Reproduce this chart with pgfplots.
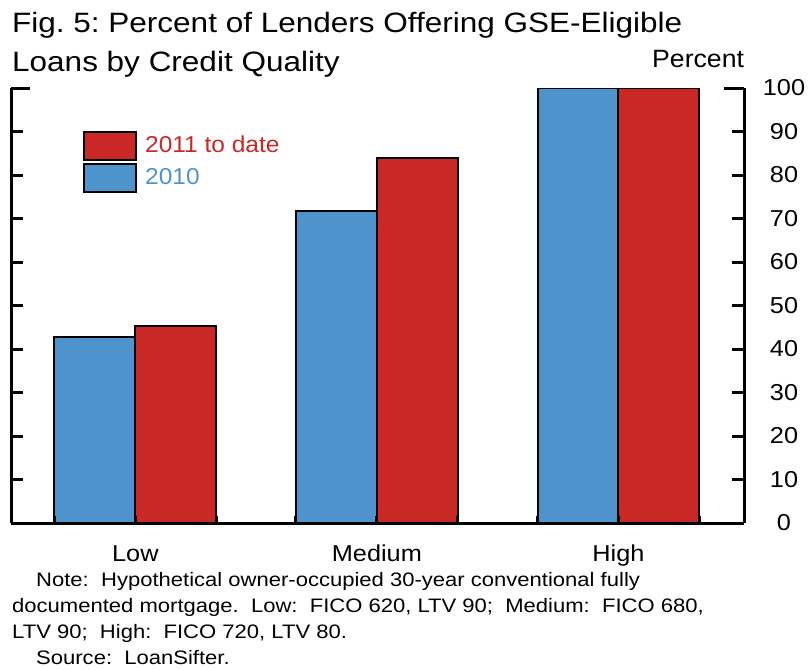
\documentclass[border=0pt]{standalone}
\usepackage{pgfplots}
\pgfplotsset{compat=1.18}
\usepackage{fontspec}
\setmainfont{Liberation Sans}[FakeStretch=1.065]
\newfontfamily\titlefont{Liberation Sans}[FakeStretch=1.125]
\newfontfamily\notefont{Liberation Sans}[FakeStretch=1.13]
\newfontfamily\tickfont{Liberation Sans}[FakeStretch=1.1]
\definecolor{barblue}{RGB}{79,147,205}
\definecolor{barred}{RGB}{201,40,38}
\begin{document}
\frenchspacing
\begin{tikzpicture}
\path[use as bounding box] (0,0) rectangle (808pt,-669pt);
\node[anchor=base west, inner sep=0pt, font=\titlefont\fontsize{28}{34}\selectfont] at (12pt,-33pt) {Fig. 5: Percent of Lenders Offering GSE-Eligible};
\node[anchor=base west, inner sep=0pt, font=\titlefont\fontsize{28}{34}\selectfont] at (12pt,-71pt) {Loans by Credit Quality};
\node[anchor=base west, inner sep=0pt, font=\fontsize{25}{30}\selectfont] at (652pt,-67pt) {Percent};
\node[anchor=base west, inner sep=0pt, font=\notefont\fontsize{19.5}{24}\selectfont] at (36pt,-586pt) {Note:\ \ Hypothetical owner-occupied 30-year conventional fully};
\node[anchor=base west, inner sep=0pt, font=\notefont\fontsize{19.5}{24}\selectfont] at (12pt,-612pt) {documented mortgage.\ \ Low:\ \ FICO 620, LTV 90;\ \ Medium:\ \ FICO 680,};
\node[anchor=base west, inner sep=0pt, font=\notefont\fontsize{19.5}{24}\selectfont] at (12pt,-638pt) {LTV 90;\ \ High:\ \ FICO 720, LTV 80.};
\node[anchor=base west, inner sep=0pt, font=\notefont\fontsize{19.5}{24}\selectfont] at (36pt,-664pt) {Source:\ \ LoanSifter.};
% left spine
\begin{axis}[at={(11pt,-523pt)}, anchor=south west, scale only axis,
  width=733pt, height=435pt, xmin=-0.515, xmax=2.52, ymin=0, ymax=100,
  axis x line=none, axis y line*=left,
  ytick={10,20,...,90}, yticklabels={},
  extra y ticks={100}, extra y tick labels={},
  extra y tick style={major tick length=19pt},
  tick align=inside, major tick length=12pt,
  axis line style={line width=3pt,-}, tick style={line width=3pt,black}]
\end{axis}
\begin{axis}[at={(11pt,-523pt)}, anchor=south west, scale only axis,
  width=733pt, height=435pt, xmin=-0.515, xmax=2.52, ymin=0, ymax=100,
  axis x line*=bottom, axis y line*=right, axis on top,
  ybar,
  ytick={0,10,...,90}, extra y ticks={100},
  extra y tick style={major tick length=20pt},
  xtick={0,1,2}, xticklabels={Low,Medium,High},
  minor xtick={-0.335,0.335,0.665,1.335,1.665,2.335},
  xtick style={/pgfplots/major tick length=7pt,/pgfplots/minor tick length=7pt},
  tick align=inside, major tick length=12pt,
  axis line style={line width=3pt,-}, tick style={line width=3pt,black},
  /pgf/number format/assume math mode=true,
  ticklabel style={font=\tickfont\fontsize{23}{23}\selectfont},
  yticklabel style={anchor=center, xshift=40pt},
  xticklabel style={anchor=base, yshift=-38pt},
  legend image code/.code={\draw[#1, line width=2pt] (0pt,-15pt) rectangle (52pt,13pt);},
  reverse legend,
  legend style={draw=none, fill=none, inner sep=0pt, at={(axis description cs:0.0982,0.901)},
    anchor=north west, row sep=2pt, font=\fontsize{23}{23}\selectfont,
    /tikz/every odd column/.append style={column sep=6pt}},
  legend cell align=left]
\addplot[fill=barblue, draw=black, line width=2pt, bar width=0.335, bar shift=-0.1675]
  coordinates {(0,42.8) (1,71.7) (2,99.9)};
\addlegendentry{\textcolor{barblue}{2010}}
\addplot[fill=barred, draw=black, line width=2pt, bar width=0.335, bar shift=0.1675]
  coordinates {(0,45.3) (1,83.9) (2,100)};
\addlegendentry{\textcolor{barred}{2011 to date}}
\end{axis}
\end{tikzpicture}
\end{document}
